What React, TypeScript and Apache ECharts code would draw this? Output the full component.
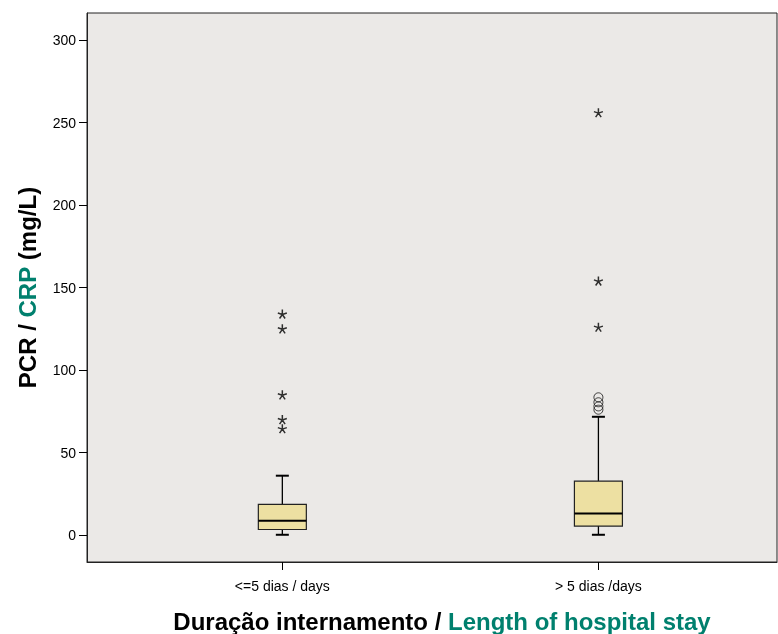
import React, { useEffect, useRef } from "react";
import * as echarts from "echarts";

const categories = ["<=5 dias / days", "> 5 dias /days"];
// [x, min, Q1, median, Q3, max]
const boxStats = [
  [1, 0.2, 3.4, 8.7, 18.6, 36],
  [2, 0.2, 5.5, 13.1, 32.7, 71.7],
];
const outliers = [
  [2, 83.5],
  [2, 80.5],
  [2, 78],
  [2, 76],
];
const extremes = [
  [1, 134],
  [1, 125],
  [1, 85],
  [1, 70],
  [1, 64.5],
  [2, 256],
  [2, 154],
  [2, 126],
];
const yTicks = [0, 50, 100, 150, 200, 250, 300];

const STAR =
  "path://M5,0L5,5M5,5L9.76,3.45M5,5L7.94,9.05M5,5L2.06,9.05M5,5L0.24,3.45";

export default function App() {
  const ref = useRef<HTMLDivElement>(null);
  useEffect(() => {
    if (!ref.current) return;
    const chart = echarts.init(ref.current, null, { renderer: "svg" });
    const font = "Liberation Sans, Arial, sans-serif";
    chart.setOption({
      animation: false,
      grid: {
        left: 87,
        top: 13,
        right: 1,
        bottom: 72,
        show: true,
        backgroundColor: "#EBE9E7",
        borderColor: "#222",
        borderWidth: 1,
      },
      xAxis: {
        type: "value",
        min: 0.382,
        max: 2.565,
        splitLine: { show: false },
        axisLine: { show: true, onZero: false, lineStyle: { color: "#222", width: 1 } },
        axisTick: {
          show: true,
          customValues: [1, 2],
          length: 8,
          lineStyle: { color: "#000" },
        },
        axisLabel: {
          customValues: [1, 2],
          formatter: (v: number) => categories[Math.round(v) - 1] ?? "",
          color: "#000",
          fontFamily: font,
          fontSize: 14,
          margin: 17,
        },
      },
      yAxis: {
        type: "value",
        min: -16.3,
        max: 316.4,
        splitLine: { show: false },
        axisLine: { show: true, lineStyle: { color: "#222", width: 1 } },
        axisTick: {
          show: true,
          customValues: yTicks,
          length: 8,
          lineStyle: { color: "#000" },
        },
        axisLabel: {
          customValues: yTicks,
          color: "#000",
          fontFamily: font,
          fontSize: 14,
          margin: 11,
        },
        name: "{a|PCR / }{b|CRP}{a| (mg/L)}",
        nameLocation: "middle",
        nameGap: 48,
        nameRotate: 90,
        nameTextStyle: {
          rich: {
            a: { color: "#000", fontSize: 24, fontWeight: "bold", fontFamily: font },
            b: { color: "#00806E", fontSize: 24, fontWeight: "bold", fontFamily: font },
          },
        },
      },
      graphic: [
        {
          type: "text",
          x: 442,
          y: 621,
          style: {
            text: "{a|Duração internamento / }{b|Length of hospital stay}",
            align: "center",
            verticalAlign: "middle",
            rich: {
              a: { fill: "#000", fontSize: 24, fontWeight: "bold", fontFamily: font },
              b: { fill: "#00806E", fontSize: 24, fontWeight: "bold", fontFamily: font },
            },
          },
        },
      ],
      series: [
        {
          type: "custom",
          data: boxStats,
          encode: { x: 0, y: [1, 2, 3, 4, 5] },
          renderItem: (params: any, api: any) => {
            const x = api.value(0);
            const pMin = api.coord([x, api.value(1)]);
            const pQ1 = api.coord([x, api.value(2)]);
            const pMed = api.coord([x, api.value(3)]);
            const pQ3 = api.coord([x, api.value(4)]);
            const pMax = api.coord([x, api.value(5)]);
            const cx = pMed[0];
            const bw = 24;
            const cw = 6.5;
            const line = (x1: number, y1: number, x2: number, y2: number, w = 1.3) => ({
              type: "line",
              shape: { x1, y1, x2, y2 },
              style: { stroke: "#000", lineWidth: w },
            });
            return {
              type: "group",
              children: [
                line(cx, pMax[1], cx, pQ3[1]),
                line(cx, pQ1[1], cx, pMin[1]),
                line(cx - cw, pMax[1], cx + cw, pMax[1], 2),
                line(cx - cw, pMin[1], cx + cw, pMin[1], 2),
                {
                  type: "rect",
                  shape: { x: cx - bw, y: pQ3[1], width: bw * 2, height: pQ1[1] - pQ3[1] },
                  style: { fill: "#EDE0A2", stroke: "#222", lineWidth: 1.2 },
                },
                line(cx - bw, pMed[1], cx + bw, pMed[1], 2),
              ],
            };
          },
          z: 2,
        },
        {
          type: "scatter",
          data: outliers,
          symbol: "circle",
          symbolSize: 9,
          itemStyle: { color: "rgba(0,0,0,0)", borderColor: "#111", borderWidth: 1 },
          z: 3,
        },
        {
          type: "scatter",
          data: extremes,
          symbol: STAR,
          symbolSize: 9,
          itemStyle: { color: "rgba(0,0,0,0)", borderColor: "#000", borderWidth: 1.5 },
          z: 3,
        },
      ],
    });
    return () => chart.dispose();
  }, []);
  return (
    <div
      ref={ref}
      style={{ position: "fixed", left: 0, top: 0, width: 778, height: 634 }}
    />
  );
}
